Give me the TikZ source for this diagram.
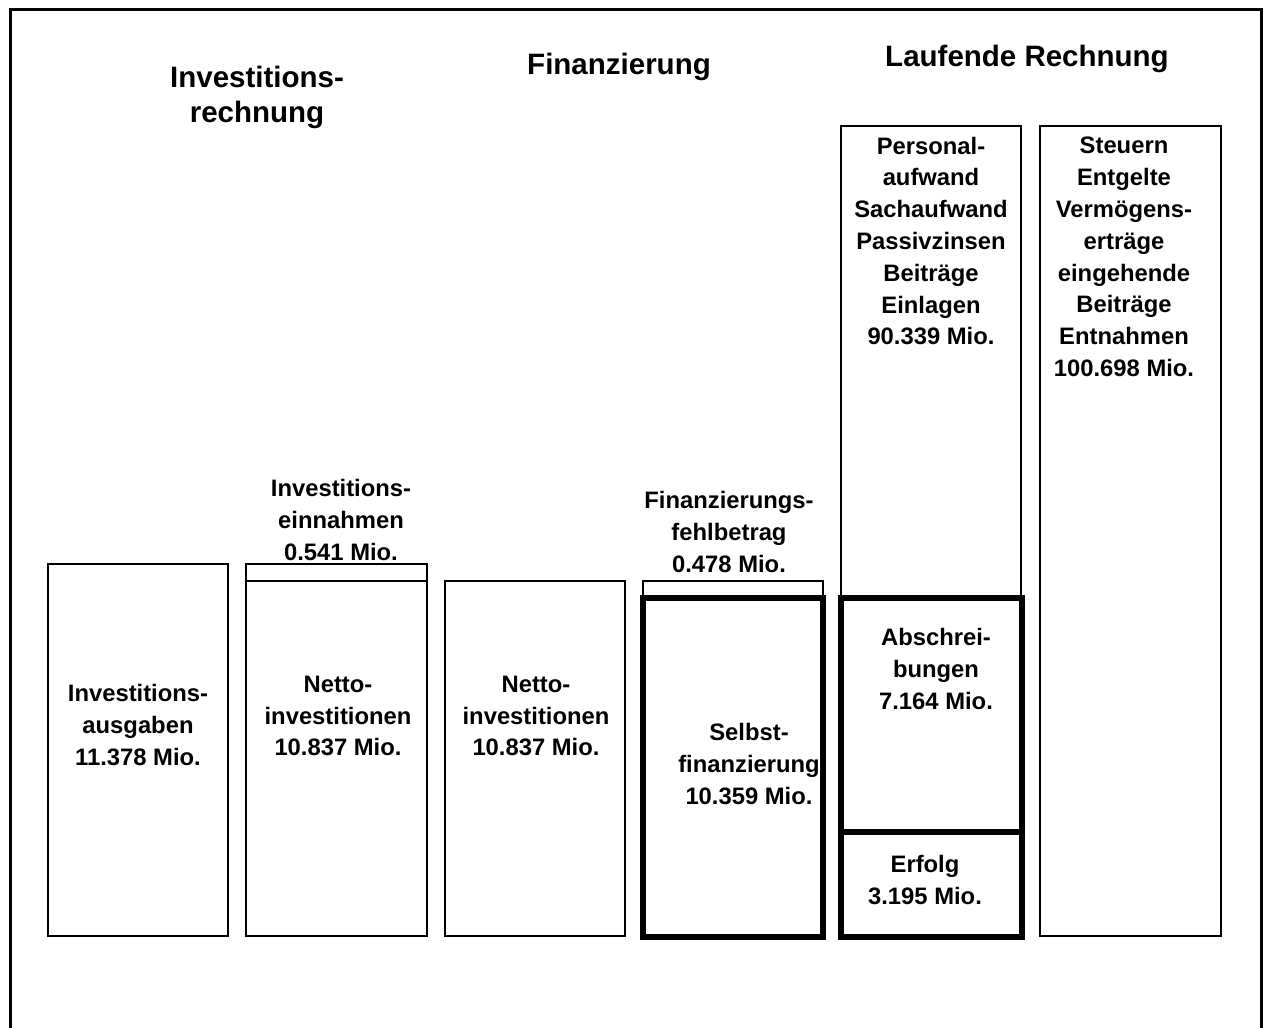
\documentclass[tikz,border=0pt]{standalone}
\usepackage{fontspec}
\setmainfont{Liberation Sans}
\begin{document}
\begin{tikzpicture}[x=1pt,y=-1pt,
  thinbox/.style={draw=black,line width=2pt,inner sep=0pt,outer sep=0pt},
  thickbox/.style={draw=black,line width=5.5pt,inner sep=0pt,outer sep=0pt},
  txt/.style={align=center,inner sep=0pt,font=\fontsize{23.8}{31.8}\selectfont\bfseries},
  ttl/.style={align=center,inner sep=0pt,font=\fontsize{29.5}{35}\selectfont\bfseries}]
\useasboundingbox (0,0) rectangle (1265,1027);
\begin{scope}
\clip (0,0) rectangle (1265,1027);
\draw[line width=3pt] (10,1040) -- (10,10) -- (1261,10) -- (1261,1040);
\end{scope}
% titles
\node[ttl] (t1) at (257,97) {Investitions-\\rechnung};
\node[ttl] (t2) at (619,67) {Finanzierung};
\node[ttl] (t3) at (1027,59) {Laufende Rechnung};
% box 1
\draw[thinbox] (48,564) rectangle (228,936);
\node[txt] (b1) at (138,725) {Investitions-\\ausgaben\\11.378 Mio.};
% box 2
\draw[thinbox] (246,564) rectangle (427,581);
\draw[thinbox] (246,581) rectangle (427,936);
\node[txt] (b2a) at (341,520) {Investitions-\\einnahmen\\0.541 Mio.};
\node[txt] (b2) at (338,716) {Netto-\\investitionen\\10.837 Mio.};
% box 3
\draw[thinbox] (445,581) rectangle (625,936);
\node[txt] (b3) at (536,716) {Netto-\\investitionen\\10.837 Mio.};
% box 4
\draw[thinbox] (643,581) rectangle (823,597);
\draw[thickbox] (643,598) rectangle (823,937);
\node[txt] (b4a) at (729,532) {Finanzierungs-\\fehlbetrag\\0.478 Mio.};
\node[txt] (b4) at (749,764) {Selbst-\\finanzierung\\10.359 Mio.};
% box 5
\draw[thinbox] (841,126) rectangle (1021,598);
\draw[thickbox] (841,598) rectangle (1022,937);
\draw[line width=5.5pt] (841,832) -- (1022,832);
\node[txt] (b5a) at (931,241) {Personal-\\aufwand\\Sachaufwand\\Passivzinsen\\Beitr\"age\\Einlagen\\90.339 Mio.};
\node[txt] (b5b) at (936,669) {Abschrei-\\bungen\\7.164 Mio.};
\node[txt] (b5c) at (925,880) {Erfolg\\3.195 Mio.};
% box 6
\draw[thinbox] (1040,126) rectangle (1221,936);
\node[txt] (b6) at (1124,257) {Steuern\\Entgelte\\Verm\"ogens-\\ertr\"age\\eingehende\\Beitr\"age\\Entnahmen\\100.698 Mio.};
\end{tikzpicture}
\end{document}
